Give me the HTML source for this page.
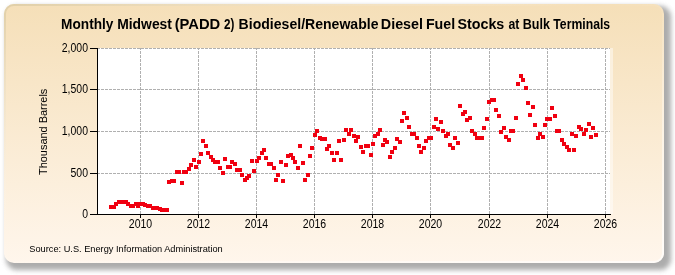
<!DOCTYPE html>
<html><head><meta charset="utf-8"><style>
html,body{margin:0;padding:0;background:#fff;width:675px;height:275px;overflow:hidden}
svg{display:block;will-change:transform}
text{font-family:"Liberation Sans",sans-serif}
.tk{font-size:12px;fill:#000}
.ti{font-size:14.2px;font-weight:bold;fill:#000}
.yl{font-size:11px;fill:#000}
.src{font-size:9.2px;fill:#000}
</style></head><body>
<svg width="675" height="275" viewBox="0 0 675 275">
<defs>
<linearGradient id="bg" x1="0" y1="0" x2="0" y2="1">
<stop offset="0" stop-color="#F5DFB8"/>
<stop offset="1" stop-color="#FFF6EC"/>
</linearGradient>
<filter id="sh" x="-5%" y="-5%" width="110%" height="115%"><feGaussianBlur stdDeviation="2.8"/></filter>
<linearGradient id="edge" x1="0" y1="0" x2="1" y2="1">
<stop offset="0" stop-color="#d8c8a0" stop-opacity="0.7"/>
<stop offset="0.45" stop-color="#ffffff" stop-opacity="0"/>
<stop offset="0.8" stop-color="#ffffff" stop-opacity="0.5"/>
<stop offset="1" stop-color="#ffffff" stop-opacity="0.7"/>
</linearGradient>
</defs>
<rect x="6" y="6" width="665" height="264" rx="11" ry="11" fill="#7a7a7a" opacity="0.62" filter="url(#sh)"/>
<rect x="4" y="4" width="660" height="259" rx="10" ry="10" fill="url(#bg)"/>
<rect x="5" y="5" width="658" height="257" rx="9" ry="9" fill="none" stroke="url(#edge)" stroke-width="2"/>
<text x="61.1" y="28.9" textLength="52.32" lengthAdjust="spacingAndGlyphs" class="ti">Monthly</text>
<text x="117.2" y="28.9" textLength="54.75" lengthAdjust="spacingAndGlyphs" class="ti">Midwest</text>
<text x="174.7" y="28.9" textLength="45.55" lengthAdjust="spacingAndGlyphs" class="ti">(PADD</text>
<text x="224.0" y="28.9" textLength="10.35" lengthAdjust="spacingAndGlyphs" class="ti">2)</text>
<text x="238.6" y="28.9" textLength="139.93" lengthAdjust="spacingAndGlyphs" class="ti">Biodiesel/Renewable</text>
<text x="380.8" y="28.9" textLength="42.24" lengthAdjust="spacingAndGlyphs" class="ti">Diesel</text>
<text x="425.9" y="28.9" textLength="29.19" lengthAdjust="spacingAndGlyphs" class="ti">Fuel</text>
<text x="457.4" y="28.9" textLength="46.95" lengthAdjust="spacingAndGlyphs" class="ti">Stocks</text>
<text x="508.4" y="28.9" textLength="10.9" lengthAdjust="spacingAndGlyphs" class="ti">at</text>
<text x="522.8" y="28.9" textLength="27.17" lengthAdjust="spacingAndGlyphs" class="ti">Bulk</text>
<text x="553.3" y="28.9" textLength="56.86" lengthAdjust="spacingAndGlyphs" class="ti">Terminals</text>
<rect x="98" y="48" width="512" height="166" fill="#fff"/>
<rect x="610" y="48" width="3" height="166" fill="#fff" opacity="0.45"/>
<line x1="140.5" y1="48" x2="140.5" y2="214" stroke="#b0b0b0" stroke-width="1" stroke-dasharray="3 1" stroke-dashoffset="1"/>
<line x1="198.5" y1="48" x2="198.5" y2="214" stroke="#b0b0b0" stroke-width="1" stroke-dasharray="3 1" stroke-dashoffset="1"/>
<line x1="256.5" y1="48" x2="256.5" y2="214" stroke="#b0b0b0" stroke-width="1" stroke-dasharray="3 1" stroke-dashoffset="1"/>
<line x1="314.5" y1="48" x2="314.5" y2="214" stroke="#b0b0b0" stroke-width="1" stroke-dasharray="3 1" stroke-dashoffset="1"/>
<line x1="372.5" y1="48" x2="372.5" y2="214" stroke="#b0b0b0" stroke-width="1" stroke-dasharray="3 1" stroke-dashoffset="1"/>
<line x1="430.5" y1="48" x2="430.5" y2="214" stroke="#b0b0b0" stroke-width="1" stroke-dasharray="3 1" stroke-dashoffset="1"/>
<line x1="489.5" y1="48" x2="489.5" y2="214" stroke="#b0b0b0" stroke-width="1" stroke-dasharray="3 1" stroke-dashoffset="1"/>
<line x1="547.5" y1="48" x2="547.5" y2="214" stroke="#b0b0b0" stroke-width="1" stroke-dasharray="3 1" stroke-dashoffset="1"/>
<line x1="605.5" y1="48" x2="605.5" y2="214" stroke="#b0b0b0" stroke-width="1" stroke-dasharray="3 1" stroke-dashoffset="1"/>
<line x1="98" y1="48.5" x2="610" y2="48.5" stroke="#b0b0b0" stroke-width="1" stroke-dasharray="3 1" stroke-dashoffset="1"/>
<line x1="98" y1="89.5" x2="610" y2="89.5" stroke="#b0b0b0" stroke-width="1" stroke-dasharray="3 1" stroke-dashoffset="1"/>
<line x1="98" y1="131.5" x2="610" y2="131.5" stroke="#b0b0b0" stroke-width="1" stroke-dasharray="3 1" stroke-dashoffset="1"/>
<line x1="98" y1="173.5" x2="610" y2="173.5" stroke="#b0b0b0" stroke-width="1" stroke-dasharray="3 1" stroke-dashoffset="1"/>
<line x1="97.5" y1="48" x2="97.5" y2="215" stroke="#000" stroke-width="1"/>
<line x1="90" y1="214.5" x2="611" y2="214.5" stroke="#000" stroke-width="1"/>
<line x1="90" y1="48.5" x2="98" y2="48.5" stroke="#000" stroke-width="1"/>
<line x1="90" y1="89.5" x2="98" y2="89.5" stroke="#000" stroke-width="1"/>
<line x1="90" y1="131.5" x2="98" y2="131.5" stroke="#000" stroke-width="1"/>
<line x1="90" y1="173.5" x2="98" y2="173.5" stroke="#000" stroke-width="1"/>
<line x1="90" y1="214.5" x2="98" y2="214.5" stroke="#000" stroke-width="1"/>
<line x1="140.5" y1="214" x2="140.5" y2="218" stroke="#000" stroke-width="1"/>
<line x1="198.5" y1="214" x2="198.5" y2="218" stroke="#000" stroke-width="1"/>
<line x1="256.5" y1="214" x2="256.5" y2="218" stroke="#000" stroke-width="1"/>
<line x1="314.5" y1="214" x2="314.5" y2="218" stroke="#000" stroke-width="1"/>
<line x1="372.5" y1="214" x2="372.5" y2="218" stroke="#000" stroke-width="1"/>
<line x1="430.5" y1="214" x2="430.5" y2="218" stroke="#000" stroke-width="1"/>
<line x1="489.5" y1="214" x2="489.5" y2="218" stroke="#000" stroke-width="1"/>
<line x1="547.5" y1="214" x2="547.5" y2="218" stroke="#000" stroke-width="1"/>
<line x1="605.5" y1="214" x2="605.5" y2="218" stroke="#000" stroke-width="1"/>
<g fill="#f00010">
<rect x="109" y="205" width="4" height="4"/>
<rect x="112" y="205" width="4" height="4"/>
<rect x="114" y="202" width="4" height="4"/>
<rect x="117" y="200" width="4" height="4"/>
<rect x="119" y="200" width="4" height="4"/>
<rect x="121" y="200" width="4" height="4"/>
<rect x="124" y="200" width="4" height="4"/>
<rect x="126" y="202" width="4" height="4"/>
<rect x="129" y="204" width="4" height="4"/>
<rect x="131" y="204" width="4" height="4"/>
<rect x="134" y="202" width="4" height="4"/>
<rect x="136" y="204" width="4" height="4"/>
<rect x="138" y="202" width="4" height="4"/>
<rect x="141" y="202" width="4" height="4"/>
<rect x="143" y="203" width="4" height="4"/>
<rect x="146" y="204" width="4" height="4"/>
<rect x="148" y="204" width="4" height="4"/>
<rect x="151" y="206" width="4" height="4"/>
<rect x="153" y="206" width="4" height="4"/>
<rect x="155" y="206" width="4" height="4"/>
<rect x="158" y="207" width="4" height="4"/>
<rect x="160" y="208" width="4" height="4"/>
<rect x="163" y="208" width="4" height="4"/>
<rect x="165" y="208" width="4" height="4"/>
<rect x="167" y="180" width="4" height="4"/>
<rect x="170" y="179" width="4" height="4"/>
<rect x="172" y="179" width="4" height="4"/>
<rect x="175" y="170" width="4" height="4"/>
<rect x="177" y="170" width="4" height="4"/>
<rect x="180" y="181" width="4" height="4"/>
<rect x="182" y="170" width="4" height="4"/>
<rect x="184" y="170" width="4" height="4"/>
<rect x="187" y="167" width="4" height="4"/>
<rect x="189" y="163" width="4" height="4"/>
<rect x="192" y="158" width="4" height="4"/>
<rect x="194" y="165" width="4" height="4"/>
<rect x="197" y="160" width="4" height="4"/>
<rect x="199" y="152" width="4" height="4"/>
<rect x="201" y="139" width="4" height="4"/>
<rect x="204" y="144" width="4" height="4"/>
<rect x="206" y="151" width="4" height="4"/>
<rect x="209" y="155" width="4" height="4"/>
<rect x="211" y="158" width="4" height="4"/>
<rect x="213" y="160" width="4" height="4"/>
<rect x="216" y="160" width="4" height="4"/>
<rect x="218" y="166" width="4" height="4"/>
<rect x="221" y="171" width="4" height="4"/>
<rect x="223" y="157" width="4" height="4"/>
<rect x="226" y="165" width="4" height="4"/>
<rect x="228" y="165" width="4" height="4"/>
<rect x="230" y="160" width="4" height="4"/>
<rect x="233" y="162" width="4" height="4"/>
<rect x="235" y="168" width="4" height="4"/>
<rect x="238" y="168" width="4" height="4"/>
<rect x="240" y="173" width="4" height="4"/>
<rect x="243" y="178" width="4" height="4"/>
<rect x="245" y="176" width="4" height="4"/>
<rect x="247" y="174" width="4" height="4"/>
<rect x="250" y="159" width="4" height="4"/>
<rect x="252" y="169" width="4" height="4"/>
<rect x="255" y="159" width="4" height="4"/>
<rect x="257" y="156" width="4" height="4"/>
<rect x="260" y="151" width="4" height="4"/>
<rect x="262" y="148" width="4" height="4"/>
<rect x="264" y="156" width="4" height="4"/>
<rect x="267" y="162" width="4" height="4"/>
<rect x="269" y="162" width="4" height="4"/>
<rect x="272" y="166" width="4" height="4"/>
<rect x="274" y="178" width="4" height="4"/>
<rect x="276" y="173" width="4" height="4"/>
<rect x="279" y="160" width="4" height="4"/>
<rect x="281" y="179" width="4" height="4"/>
<rect x="284" y="163" width="4" height="4"/>
<rect x="286" y="154" width="4" height="4"/>
<rect x="289" y="153" width="4" height="4"/>
<rect x="291" y="156" width="4" height="4"/>
<rect x="293" y="160" width="4" height="4"/>
<rect x="296" y="166" width="4" height="4"/>
<rect x="298" y="144" width="4" height="4"/>
<rect x="301" y="161" width="4" height="4"/>
<rect x="303" y="178" width="4" height="4"/>
<rect x="306" y="173" width="4" height="4"/>
<rect x="308" y="154" width="4" height="4"/>
<rect x="310" y="146" width="4" height="4"/>
<rect x="313" y="133" width="4" height="4"/>
<rect x="315" y="129" width="4" height="4"/>
<rect x="318" y="136" width="4" height="4"/>
<rect x="320" y="137" width="4" height="4"/>
<rect x="323" y="137" width="4" height="4"/>
<rect x="325" y="147" width="4" height="4"/>
<rect x="327" y="144" width="4" height="4"/>
<rect x="330" y="151" width="4" height="4"/>
<rect x="332" y="158" width="4" height="4"/>
<rect x="335" y="151" width="4" height="4"/>
<rect x="337" y="139" width="4" height="4"/>
<rect x="339" y="158" width="4" height="4"/>
<rect x="342" y="138" width="4" height="4"/>
<rect x="344" y="128" width="4" height="4"/>
<rect x="347" y="132" width="4" height="4"/>
<rect x="349" y="128" width="4" height="4"/>
<rect x="352" y="134" width="4" height="4"/>
<rect x="354" y="139" width="4" height="4"/>
<rect x="356" y="135" width="4" height="4"/>
<rect x="359" y="145" width="4" height="4"/>
<rect x="361" y="150" width="4" height="4"/>
<rect x="364" y="144" width="4" height="4"/>
<rect x="366" y="144" width="4" height="4"/>
<rect x="369" y="153" width="4" height="4"/>
<rect x="371" y="142" width="4" height="4"/>
<rect x="373" y="134" width="4" height="4"/>
<rect x="376" y="132" width="4" height="4"/>
<rect x="378" y="128" width="4" height="4"/>
<rect x="381" y="143" width="4" height="4"/>
<rect x="383" y="138" width="4" height="4"/>
<rect x="385" y="140" width="4" height="4"/>
<rect x="388" y="155" width="4" height="4"/>
<rect x="390" y="150" width="4" height="4"/>
<rect x="393" y="146" width="4" height="4"/>
<rect x="395" y="137" width="4" height="4"/>
<rect x="398" y="140" width="4" height="4"/>
<rect x="400" y="119" width="4" height="4"/>
<rect x="402" y="111" width="4" height="4"/>
<rect x="405" y="116" width="4" height="4"/>
<rect x="407" y="125" width="4" height="4"/>
<rect x="410" y="132" width="4" height="4"/>
<rect x="412" y="132" width="4" height="4"/>
<rect x="415" y="136" width="4" height="4"/>
<rect x="417" y="144" width="4" height="4"/>
<rect x="419" y="150" width="4" height="4"/>
<rect x="422" y="146" width="4" height="4"/>
<rect x="424" y="139" width="4" height="4"/>
<rect x="427" y="136" width="4" height="4"/>
<rect x="429" y="136" width="4" height="4"/>
<rect x="432" y="125" width="4" height="4"/>
<rect x="434" y="117" width="4" height="4"/>
<rect x="436" y="127" width="4" height="4"/>
<rect x="439" y="120" width="4" height="4"/>
<rect x="441" y="129" width="4" height="4"/>
<rect x="444" y="134" width="4" height="4"/>
<rect x="446" y="132" width="4" height="4"/>
<rect x="448" y="143" width="4" height="4"/>
<rect x="451" y="146" width="4" height="4"/>
<rect x="453" y="136" width="4" height="4"/>
<rect x="456" y="141" width="4" height="4"/>
<rect x="458" y="104" width="4" height="4"/>
<rect x="461" y="112" width="4" height="4"/>
<rect x="463" y="110" width="4" height="4"/>
<rect x="465" y="118" width="4" height="4"/>
<rect x="468" y="116" width="4" height="4"/>
<rect x="470" y="129" width="4" height="4"/>
<rect x="473" y="132" width="4" height="4"/>
<rect x="475" y="136" width="4" height="4"/>
<rect x="478" y="136" width="4" height="4"/>
<rect x="480" y="136" width="4" height="4"/>
<rect x="482" y="126" width="4" height="4"/>
<rect x="485" y="117" width="4" height="4"/>
<rect x="487" y="100" width="4" height="4"/>
<rect x="490" y="98" width="4" height="4"/>
<rect x="492" y="98" width="4" height="4"/>
<rect x="494" y="108" width="4" height="4"/>
<rect x="497" y="114" width="4" height="4"/>
<rect x="499" y="130" width="4" height="4"/>
<rect x="502" y="126" width="4" height="4"/>
<rect x="504" y="135" width="4" height="4"/>
<rect x="507" y="138" width="4" height="4"/>
<rect x="509" y="129" width="4" height="4"/>
<rect x="511" y="129" width="4" height="4"/>
<rect x="514" y="116" width="4" height="4"/>
<rect x="516" y="82" width="4" height="4"/>
<rect x="519" y="74" width="4" height="4"/>
<rect x="521" y="78" width="4" height="4"/>
<rect x="524" y="86" width="4" height="4"/>
<rect x="526" y="101" width="4" height="4"/>
<rect x="528" y="113" width="4" height="4"/>
<rect x="531" y="105" width="4" height="4"/>
<rect x="533" y="123" width="4" height="4"/>
<rect x="536" y="136" width="4" height="4"/>
<rect x="538" y="132" width="4" height="4"/>
<rect x="541" y="135" width="4" height="4"/>
<rect x="543" y="123" width="4" height="4"/>
<rect x="545" y="117" width="4" height="4"/>
<rect x="548" y="117" width="4" height="4"/>
<rect x="550" y="106" width="4" height="4"/>
<rect x="553" y="114" width="4" height="4"/>
<rect x="555" y="129" width="4" height="4"/>
<rect x="557" y="129" width="4" height="4"/>
<rect x="560" y="138" width="4" height="4"/>
<rect x="562" y="142" width="4" height="4"/>
<rect x="565" y="145" width="4" height="4"/>
<rect x="567" y="148" width="4" height="4"/>
<rect x="570" y="132" width="4" height="4"/>
<rect x="572" y="148" width="4" height="4"/>
<rect x="574" y="134" width="4" height="4"/>
<rect x="577" y="125" width="4" height="4"/>
<rect x="579" y="127" width="4" height="4"/>
<rect x="582" y="132" width="4" height="4"/>
<rect x="584" y="128" width="4" height="4"/>
<rect x="587" y="122" width="4" height="4"/>
<rect x="589" y="135" width="4" height="4"/>
<rect x="591" y="126" width="4" height="4"/>
<rect x="594" y="133" width="4" height="4"/>
</g>
<text x="61.8" y="52.3" textLength="26.2" lengthAdjust="spacingAndGlyphs" class="tk">2,000</text>
<text x="61.8" y="93.3" textLength="26.2" lengthAdjust="spacingAndGlyphs" class="tk">1,500</text>
<text x="61.8" y="135.3" textLength="26.2" lengthAdjust="spacingAndGlyphs" class="tk">1,000</text>
<text x="70.5" y="177.3" textLength="17.5" lengthAdjust="spacingAndGlyphs" class="tk">500</text>
<text x="82.2" y="218.3" textLength="5.8" lengthAdjust="spacingAndGlyphs" class="tk">0</text>
<text x="128.8" y="227.5" textLength="23.4" lengthAdjust="spacingAndGlyphs" class="tk">2010</text>
<text x="186.8" y="227.5" textLength="23.4" lengthAdjust="spacingAndGlyphs" class="tk">2012</text>
<text x="244.8" y="227.5" textLength="23.4" lengthAdjust="spacingAndGlyphs" class="tk">2014</text>
<text x="302.8" y="227.5" textLength="23.4" lengthAdjust="spacingAndGlyphs" class="tk">2016</text>
<text x="360.8" y="227.5" textLength="23.4" lengthAdjust="spacingAndGlyphs" class="tk">2018</text>
<text x="418.8" y="227.5" textLength="23.4" lengthAdjust="spacingAndGlyphs" class="tk">2020</text>
<text x="477.8" y="227.5" textLength="23.4" lengthAdjust="spacingAndGlyphs" class="tk">2022</text>
<text x="535.8" y="227.5" textLength="23.4" lengthAdjust="spacingAndGlyphs" class="tk">2024</text>
<text x="593.8" y="227.5" textLength="23.4" lengthAdjust="spacingAndGlyphs" class="tk">2026</text>
<text transform="translate(47,175) rotate(-90)" textLength="86.3" lengthAdjust="spacingAndGlyphs" class="yl">Thousand Barrels</text>
<text x="29.3" y="252.4" textLength="193.4" lengthAdjust="spacingAndGlyphs" class="src">Source: U.S. Energy Information Administration</text>
</svg>
</body></html>
